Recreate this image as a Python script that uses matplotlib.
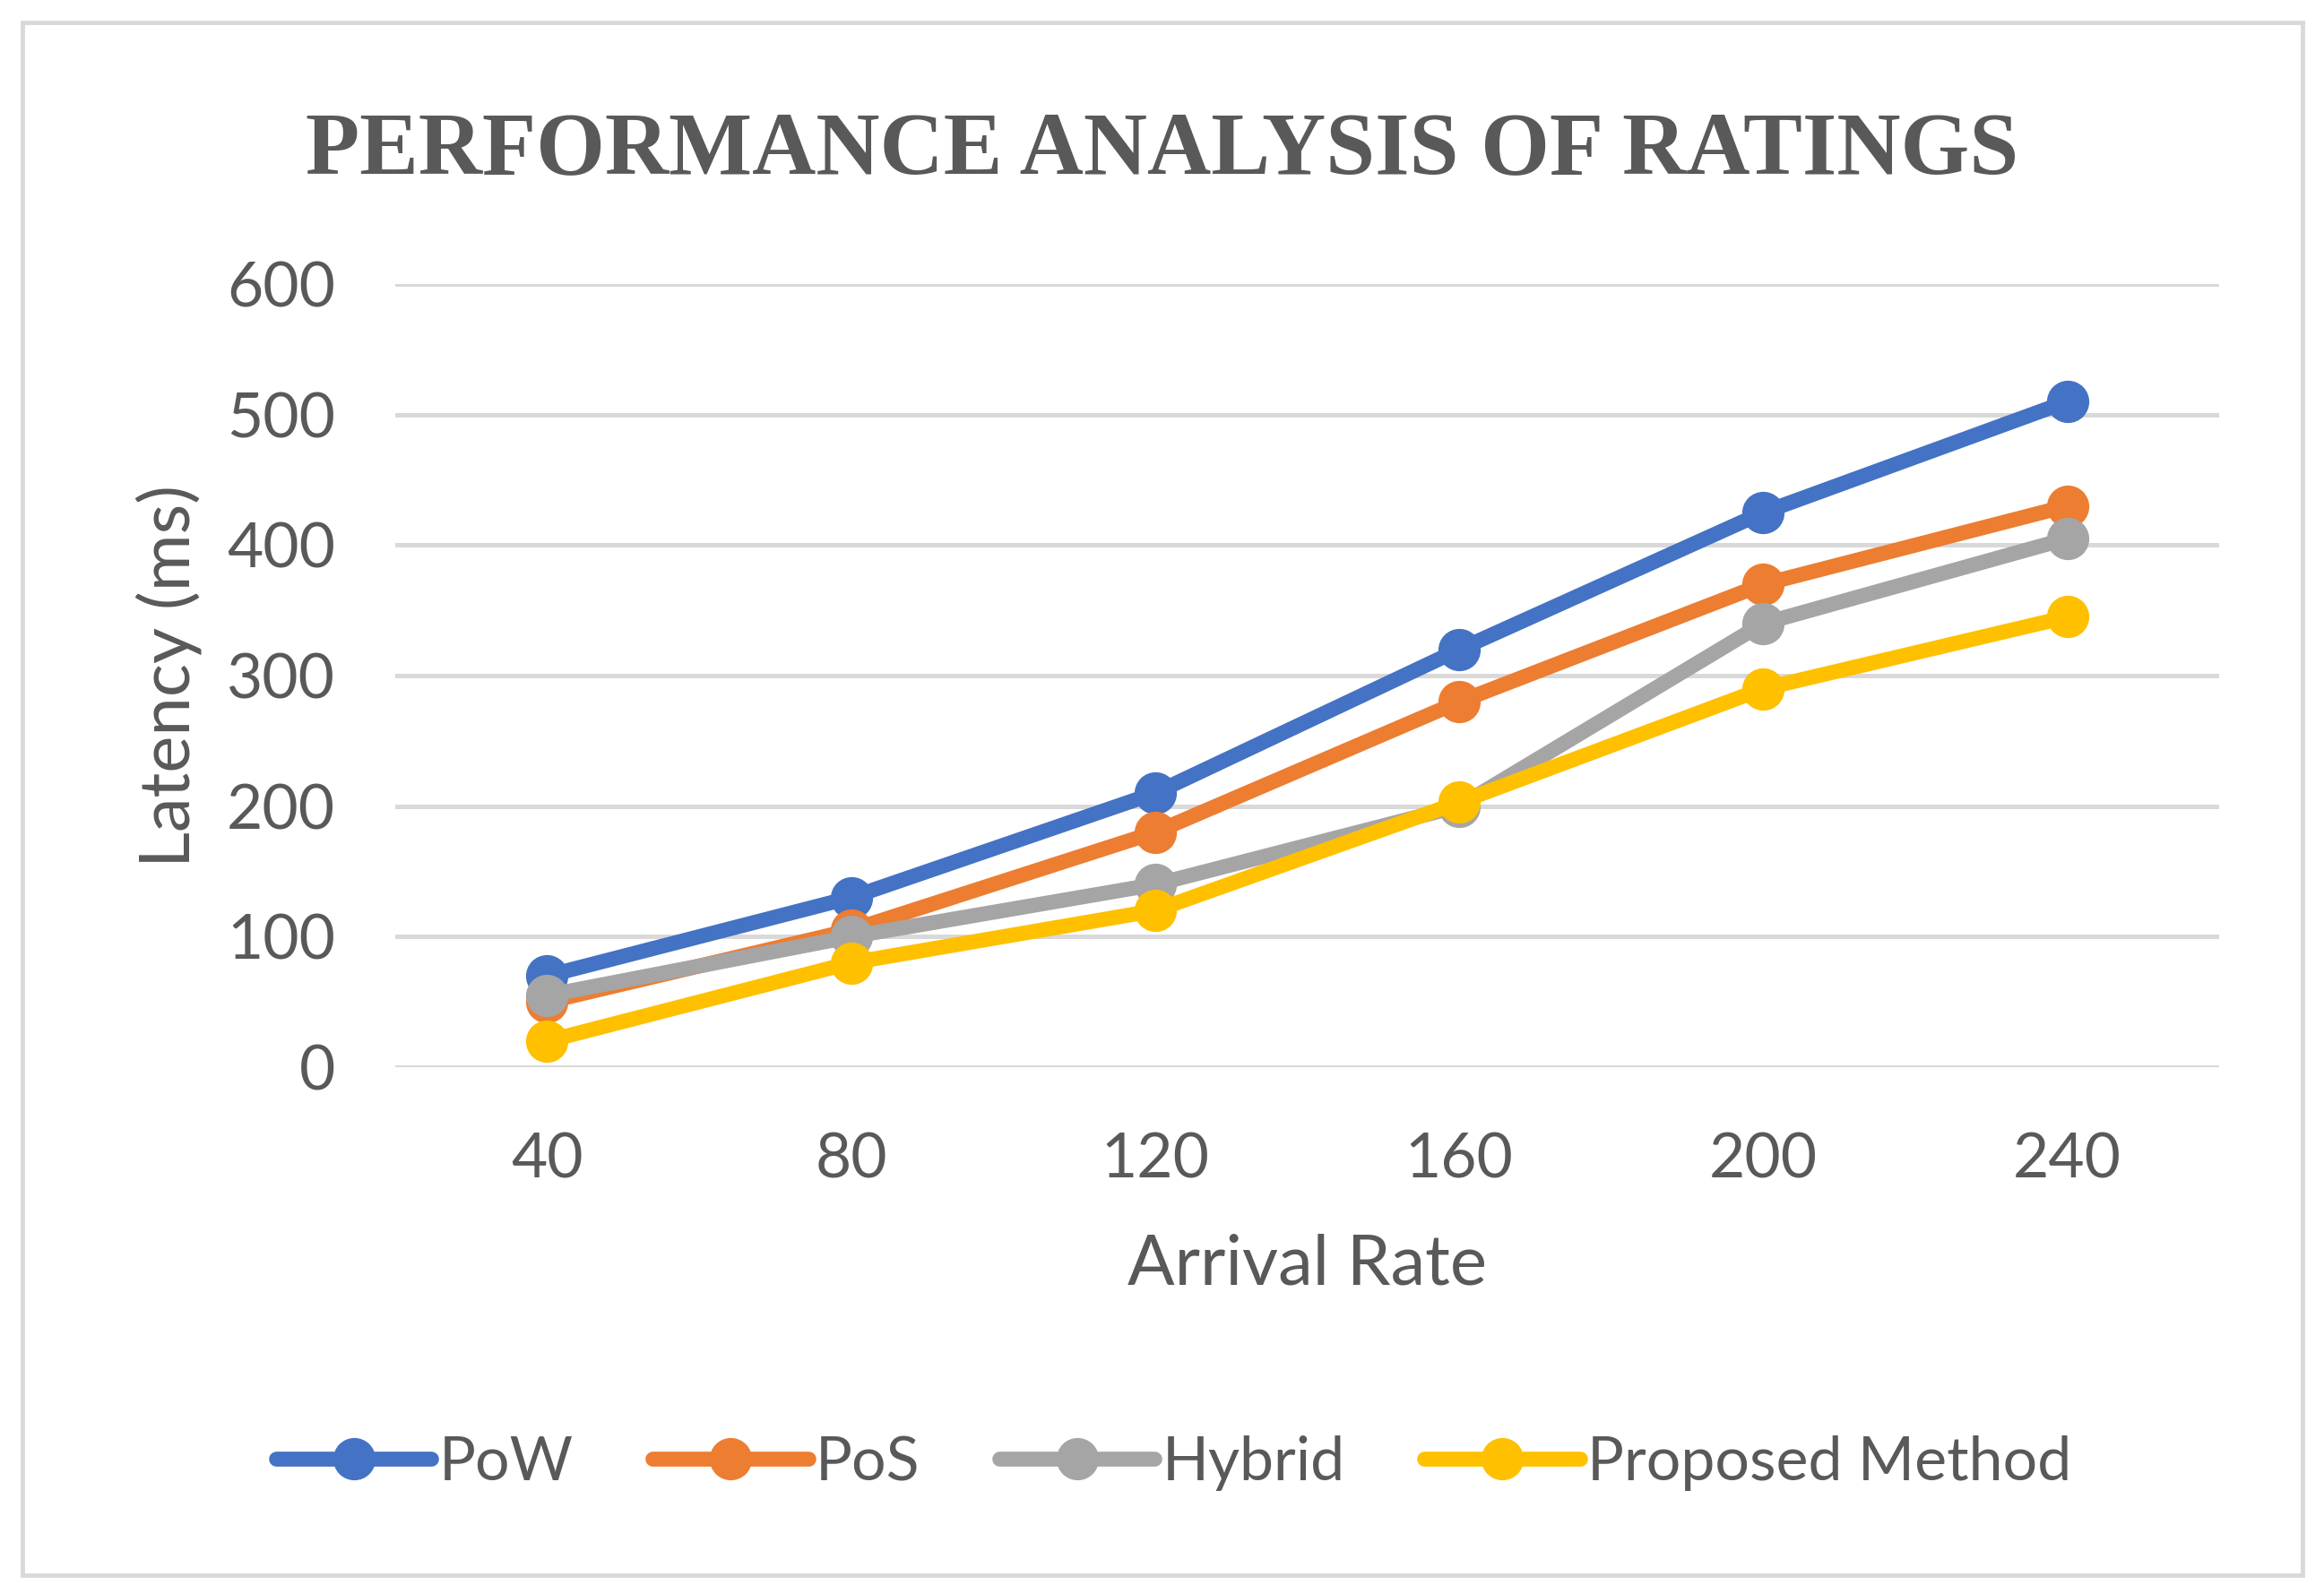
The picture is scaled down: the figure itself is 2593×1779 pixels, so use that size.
#Latency vs arrival rate chart
import matplotlib.pyplot as plt
from matplotlib.patches import Rectangle

arrival = ['40', '80', '120', '160', '200', '240']
pow_ms = [70, 130, 210, 320, 425, 510]
pos_ms = [50, 105, 180, 280, 370, 430]
hybrid_ms = [55, 100, 140, 200, 340, 405]
proposed_ms = [20, 80, 120, 203, 290, 345]

series = [('PoW', pow_ms, '#4472C4'),
          ('PoS', pos_ms, '#ED7D31'),
          ('Hybrid', hybrid_ms, '#A5A5A5'),
          ('Proposed Method', proposed_ms, '#FFC000')]

txt = '#595959'
sans = ['Lato', 'DejaVu Sans']

fig = plt.figure(figsize=(25.93, 17.79), dpi=100)
fig.patches.append(Rectangle((0.0097, 0.012), 0.981, 0.974, transform=fig.transFigure,
                             fill=False, edgecolor='#d9d9d9', linewidth=3.5))

ax = fig.add_axes([0.170, 0.3305, 0.785, 0.4913])
x = range(len(arrival))
for name, vals, col in series:
    ax.plot(x, vals, color=col, linewidth=12, marker='o', markersize=33,
            solid_capstyle='round', label=name)

ax.set_xlim(-0.5, len(arrival) - 0.5)
ax.set_ylim(0, 600)
ax.set_yticks(range(0, 601, 100))
ax.set_xticks(list(x))
ax.set_xticklabels(arrival)
ax.grid(axis='y', color='#d9d9d9', linewidth=3.6)
ax.set_axisbelow(True)
for s in ax.spines.values():
    s.set_visible(False)
ax.tick_params(length=0, labelsize=50, labelcolor=txt)
for lab in ax.get_xticklabels() + ax.get_yticklabels():
    lab.set_family(sans)
ax.tick_params(axis='y', pad=48)
ax.tick_params(axis='x', pad=52)

ax.set_xlabel('Arrival Rate', fontsize=56, color=txt, family=sans, labelpad=36)
ax.set_ylabel('Latency (ms)', fontsize=56, color=txt, family=sans, labelpad=20)

fig.text(0.5, 0.905, 'PERFORMANCE ANALYSIS OF RATINGS', ha='center', va='center',
         fontsize=71, fontweight='bold', color=txt, family='Liberation Serif')

leg = fig.legend(loc='center', bbox_to_anchor=(0.505, 0.082), ncol=4, frameon=False,
                 prop={'family': sans, 'size': 49}, handlelength=2.55,
                 handletextpad=0.12, columnspacing=1.3)
for t in leg.get_texts():
    t.set_color(txt)

fig.savefig('out.png', dpi=100)
